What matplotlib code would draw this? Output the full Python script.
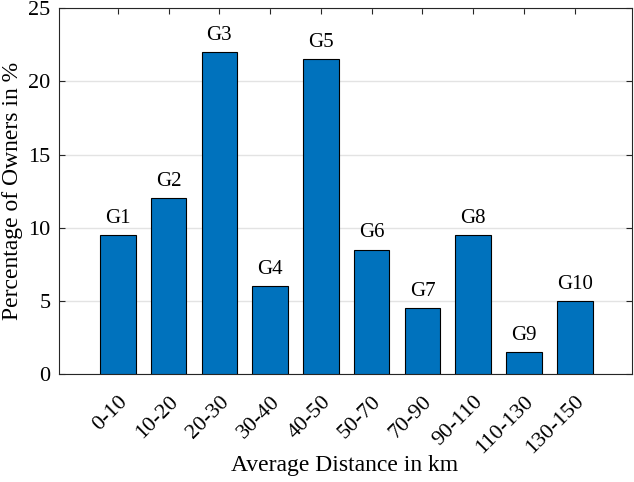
import numpy as np
import matplotlib.pyplot as plt

plt.rcParams['font.family'] = ['Liberation Serif', 'DejaVu Serif']

ranges = ['0-10', '10-20', '20-30', '30-40', '40-50', '50-70', '70-90',
          '90-110', '110-130', '130-150']
groups = ['G1', 'G2', 'G3', 'G4', 'G5', 'G6', 'G7', 'G8', 'G9', 'G10']
percent = [9.5, 12, 22, 6, 21.5, 8.5, 4.5, 9.5, 1.5, 5]

fig = plt.figure(figsize=(6.34, 4.82), dpi=100)
ax = fig.add_axes([0.093, 0.224, 0.904, 0.759])

x = np.arange(len(ranges))
bars = ax.bar(x, percent, width=0.7, color='#0072BD', edgecolor='black',
              linewidth=0.8, zorder=3)

for b, g in zip(bars, groups):
    ax.text(b.get_x() + b.get_width() / 2, b.get_height() + 0.5, g,
            ha='center', va='bottom', fontsize=15)

ax.set_xlim(-1.16, 10.13)
ax.set_ylim(0, 25)
ax.set_yticks(np.arange(0, 26, 5))
ax.set_xticks(x)
ax.set_xticklabels(ranges, rotation=45, ha='right', va='top',
                   rotation_mode='anchor')
ax.yaxis.grid(True, color='#e3e3e3', linewidth=1, zorder=0)
ax.set_axisbelow(True)

ax.tick_params(direction='in', top=True, right=True, labelsize=16,
               length=4, width=0.8, color='#262626', pad=6)
ax.tick_params(axis='x', pad=13)
for s in ax.spines.values():
    s.set_color('#262626')
    s.set_linewidth(0.8)

ax.set_xlabel('Average Distance in km', fontsize=17)
ax.xaxis.set_label_coords(0.499, -0.222)
ax.set_ylabel('Percentage of Owners in %', fontsize=17, labelpad=4)

fig.savefig('out.png', dpi=100)
